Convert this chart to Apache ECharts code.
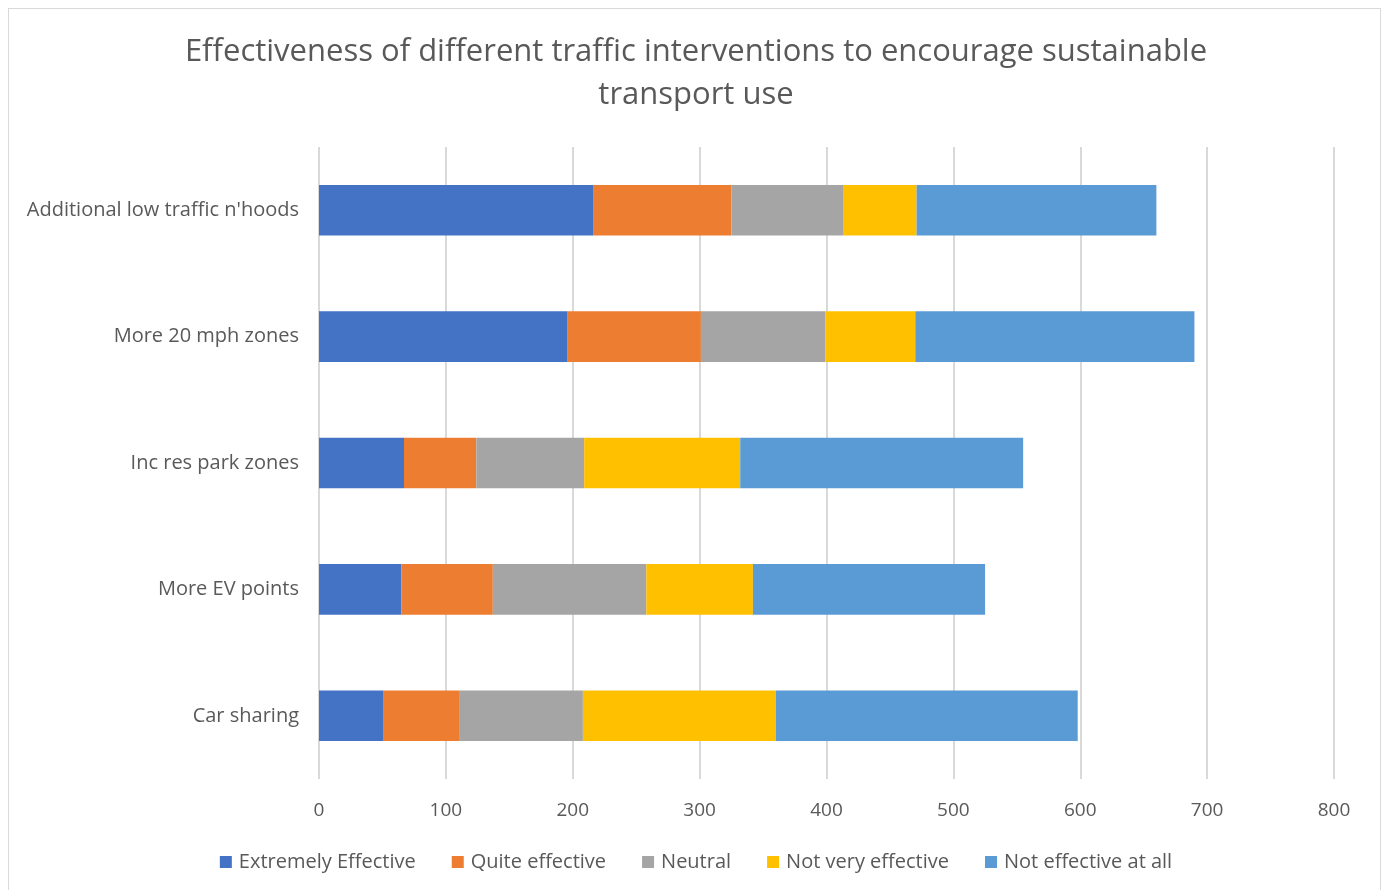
<!DOCTYPE html>
<html>
<head>
<meta charset="utf-8">
<script src="https://cdn.jsdelivr.net/npm/echarts@6/dist/echarts.min.js"></script>
<style>
  html, body { margin: 0; padding: 0; background: #fff; }
  #frame { position: absolute; left: 8px; top: 8px; width: 1373px; height: 890px; border: 1px solid #d9d9d9; box-sizing: border-box; }
  #chart { position: absolute; left: 0; top: 0; width: 1392px; height: 890px; }
</style>
</head>
<body>
<div id="frame"></div>
<div id="chart"></div>
<script>
// 类别（从上到下）
const categories = [
  "Additional low traffic n'hoods",
  "More 20 mph zones",
  "Inc res park zones",
  "More EV points",
  "Car sharing"
];

const seriesNames = ["Extremely Effective", "Quite effective", "Neutral", "Not very effective", "Not effective at all"];
const seriesColors = ["#4472c4", "#ed7d31", "#a5a5a5", "#ffc000", "#5b9bd5"];

// 各系列数值（顺序同 categories）
const extremelyEffective = [216, 196, 67, 65, 51];
const quiteEffective     = [109, 105, 57, 72, 60];
const neutral            = [88, 98, 85, 121, 97];
const notVeryEffective   = [58, 71, 123, 84, 152];
const notEffectiveAtAll  = [189, 220, 223, 183, 238];

const seriesData = [extremelyEffective, quiteEffective, neutral, notVeryEffective, notEffectiveAtAll];

const textColor = "#595959";
const font = "'Open Sans', 'Noto Sans', sans-serif";

const chart = echarts.init(document.getElementById("chart"));
chart.setOption({
  animation: false,
  title: {
    text: "Effectiveness of different traffic interventions to encourage sustainable\ntransport use",
    left: "center",
    top: 26,
    textStyle: { color: textColor, fontSize: 31, fontWeight: "normal", fontFamily: font, lineHeight: 43 }
  },
  legend: {
    bottom: 13,
    left: "center",
    itemWidth: 12,
    itemHeight: 12,
    itemGap: 36,
    icon: "rect",
    textStyle: { color: textColor, fontSize: 20, fontFamily: font, padding: [0, 0, 0, 2] },
    data: seriesNames
  },
  grid: { left: 319, right: 58, top: 147, bottom: 111, containLabel: false },
  xAxis: {
    type: "value",
    min: 0,
    max: 800,
    interval: 100,
    axisLine: { show: false },
    axisTick: { show: false },
    axisLabel: { color: textColor, fontSize: 19, fontFamily: font, margin: 22 },
    splitLine: { lineStyle: { color: "#d9d9d9", width: 2 } }
  },
  yAxis: {
    type: "category",
    inverse: true,
    data: categories,
    axisLine: { show: false },
    axisTick: { show: false },
    axisLabel: { color: textColor, fontSize: 20, fontFamily: font, margin: 20 }
  },
  series: seriesNames.map((name, i) => ({
    name: name,
    type: "bar",
    stack: "total",
    barCategoryGap: "60%",
    itemStyle: { color: seriesColors[i] },
    data: seriesData[i]
  }))
});
</script>
</body>
</html>
